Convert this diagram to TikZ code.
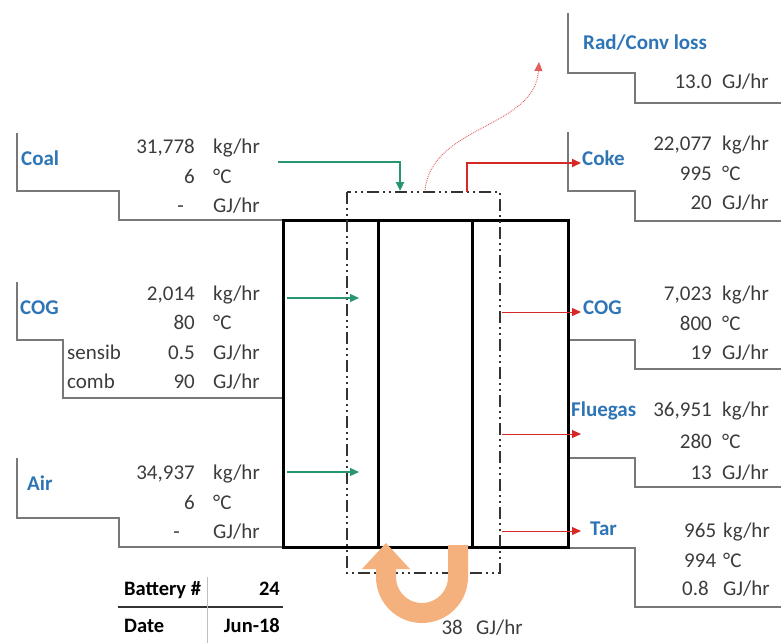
\documentclass[tikz,border=0pt]{standalone}
\usepackage{fontspec}
\setmainfont{Carlito}
\usetikzlibrary{arrows.meta}
\definecolor{lblblue}{RGB}{46,117,182}
\definecolor{txtgray}{RGB}{60,60,60}
\definecolor{brk}{RGB}{120,120,120}
\definecolor{grn}{RGB}{40,150,110}
\definecolor{rd}{RGB}{215,40,40}
\definecolor{org}{RGB}{245,177,125}
\begin{document}
\begin{tikzpicture}[x=1pt,y=-1pt,
  every node/.style={inner sep=0pt, font=\fontsize{21}{23}\selectfont},
  num/.style={anchor=mid east, text=txtgray},
  unit/.style={anchor=mid west, text=txtgray},
  lbl/.style={anchor=mid west, text=lblblue, font=\fontsize{21}{23}\selectfont\bfseries},
  tbl/.style={text=black, font=\fontsize{20.5}{23}\selectfont\bfseries},
  brkline/.style={draw=brk, line width=1.3pt},
  boxline/.style={line width=3pt, black},
  ddot/.style={line width=1.5pt, black!80, dash pattern=on 12pt off 4pt on 2pt off 4pt on 2pt off 4pt},
  tip/.style={-{Triangle[length=9pt,width=8pt]}},
  garrow/.style={grn, line width=1.3pt, tip},
  rarrow/.style={rd, line width=1pt, tip},
]
\useasboundingbox (0,0) rectangle (781,643);

% bracket lines
\draw[brkline] (17,133) -- (17,191) -- (119,191) -- (119,220) -- (283,220);
\draw[brkline] (17,282) -- (17,340) -- (63,340) -- (63,398) -- (283,398);
\draw[brkline] (17,458) -- (17,518) -- (119,518) -- (119,547) -- (283,547);
\draw[brkline] (568,13) -- (568,73) -- (635,73) -- (635,103) -- (781,103);
\draw[brkline] (568,132) -- (568,191) -- (635,191) -- (635,221) -- (781,221);
\draw[brkline] (568,340) -- (635,340) -- (635,369) -- (781,369);
\draw[brkline] (568,458) -- (635,458) -- (635,487) -- (781,487);
\draw[brkline] (568,548) -- (635,548) -- (635,607) -- (781,607);

% battery box
\draw[boxline] (283,220) rectangle (568,547);
\draw[boxline] (378,220) -- (378,547);
\draw[boxline] (472,220) -- (472,547);

% control boundary
\draw[ddot] (347,192) rectangle (500,573);

% coordinates
\coordinate (coalS) at (278,162);
\coordinate (coalT) at (400,191);
\coordinate (cokeS) at (467,192);
\coordinate (cokeT) at (581,163);
\coordinate (cogiS) at (287,298);
\coordinate (cogiT) at (359,298);
\coordinate (airS) at (287,472);
\coordinate (airT) at (359,472);
\coordinate (cogoS) at (502,312);
\coordinate (cogoT) at (581,312);
\coordinate (flueS) at (502,434);
\coordinate (flueT) at (581,434);
\coordinate (tarS) at (502,531);
\coordinate (tarT) at (581,531);
\coordinate (radS) at (425,190);
\coordinate (radT) at (539,62);

% flows
\draw[grn, line width=2.2pt, tip] (coalS) -| (coalT);
\draw[rd, line width=2pt, tip] (cokeS) |- (cokeT);
\draw[garrow] (cogiS) -- (cogiT);
\draw[garrow] (airS) -- (airT);
\draw[rarrow] (cogoS) -- (cogoT);
\draw[rarrow] (flueS) -- (flueT);
\draw[rarrow] (tarS) -- (tarT);
\draw[rd!75, line width=0.9pt, densely dotted, tip] (radS) .. controls (432,125) and (535,128) .. (radT);

% heat recirculation U arrow
\draw[org, line width=20pt] (458,545) -- (458,577) arc[start angle=0, end angle=180, radius=36] -- (386,566);
\fill[org] (362,569) -- (410,569) -- (386,543) -- cycle;
\node[num] (hq) at (463,632) {38};
\node[unit] (hqu) at (476,632) {GJ/hr};

% left: Coal
\node[lbl] (coal) at (21,163) {Coal};
\node[num] (c1) at (195,151) {31,778};
\node[unit] (c1u) at (213,151) {kg/hr};
\node[num] (c2) at (195,181) {6};
\node[unit] (c2u) at (213,181) {°C};
\node[num] (c3) at (184,210) {-};
\node[unit] (c3u) at (213,210) {GJ/hr};

% left: COG
\node[lbl] (cogl) at (20,312) {COG};
\node[num] (g1) at (195,298) {2,014};
\node[unit] (g1u) at (213,298) {kg/hr};
\node[num] (g2) at (195,327) {80};
\node[unit] (g2u) at (213,327) {°C};
\node[unit] (g3l) at (67,357) {sensib};
\node[num] (g3) at (195,357) {0.5};
\node[unit] (g3u) at (213,357) {GJ/hr};
\node[unit] (g4l) at (67,386) {comb};
\node[num] (g4) at (195,386) {90};
\node[unit] (g4u) at (213,386) {GJ/hr};

% left: Air
\node[lbl] (air) at (27,488) {Air};
\node[num] (a1) at (195,477) {34,937};
\node[unit] (a1u) at (213,477) {kg/hr};
\node[num] (a2) at (195,507) {6};
\node[unit] (a2u) at (213,507) {°C};
\node[num] (a3) at (180,536) {-};
\node[unit] (a3u) at (213,536) {GJ/hr};

% table
\draw[black!80, line width=1.4pt] (118,607) -- (283,607);
\draw[black!25, line width=1pt] (207,577) -- (207,643);
\node[tbl, anchor=mid west] (bt) at (124,593) {Battery \#};
\node[tbl, anchor=mid east] (btv) at (280,593) {24};
\node[tbl, anchor=mid west] (dt) at (124,630) {Date};
\node[tbl, anchor=mid east] (dtv) at (280,630) {Jun-18};

% right: Rad/Conv loss
\node[lbl] (rad) at (583,47) {Rad/Conv loss};
\node[num] (r1) at (712,86) {13.0};
\node[unit] (r1u) at (722,86) {GJ/hr};

% right: Coke
\node[lbl] (coke) at (582,163) {Coke};
\node[num] (k1) at (712,148) {22,077};
\node[unit] (k1u) at (722,148) {kg/hr};
\node[num] (k2) at (712,178) {995};
\node[unit] (k2u) at (722,178) {°C};
\node[num] (k3) at (712,207) {20};
\node[unit] (k3u) at (722,207) {GJ/hr};

% right: COG
\node[lbl] (cogr) at (583,312) {COG};
\node[num] (o1) at (712,298) {7,023};
\node[unit] (o1u) at (722,298) {kg/hr};
\node[num] (o2) at (712,328) {800};
\node[unit] (o2u) at (722,328) {°C};
\node[num] (o3) at (712,357) {19};
\node[unit] (o3u) at (722,357) {GJ/hr};

% right: Fluegas
\node[lbl] (flue) at (571,414) {Fluegas};
\node[num] (f1) at (712,414) {36,951};
\node[unit] (f1u) at (722,414) {kg/hr};
\node[num] (f2) at (712,446) {280};
\node[unit] (f2u) at (722,446) {°C};
\node[num] (f3) at (712,477) {13};
\node[unit] (f3u) at (722,477) {GJ/hr};

% right: Tar
\node[lbl] (tar) at (590,533) {Tar};
\node[unit] (t1) at (684,535) {965};
\node[unit] (t1u) at (723,535) {kg/hr};
\node[unit] (t2) at (684,565) {994};
\node[unit] (t2u) at (723,565) {°C};
\node[unit] (t3) at (682,593) {0.8};
\node[unit] (t3u) at (723,593) {GJ/hr};
\end{tikzpicture}
\end{document}
